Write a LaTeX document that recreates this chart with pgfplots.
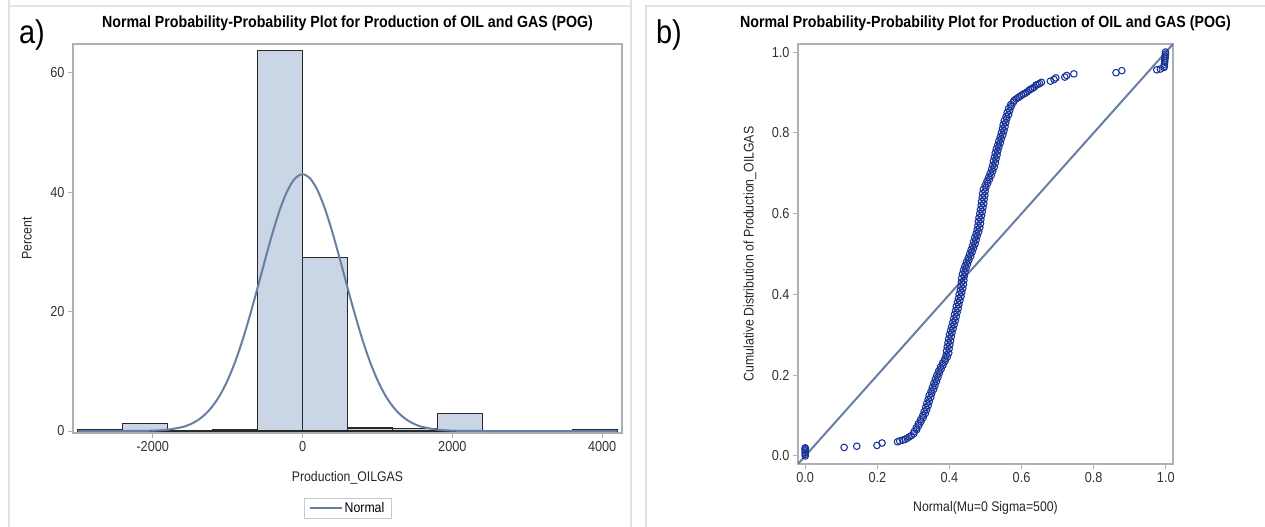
\documentclass[border=0pt]{standalone}
\usepackage{fontspec}
\setmainfont{Liberation Sans}
\newfontfamily\sasfont[FakeStretch=0.88]{Liberation Sans}
\usepackage{pgfplots}
\pgfplotsset{compat=1.18}
\definecolor{barfill}{RGB}{202,213,229}
\definecolor{baredge}{RGB}{40,40,40}
\definecolor{curve}{RGB}{102,127,163}
\definecolor{axgray}{RGB}{172,176,182}
\definecolor{ptblue}{RGB}{24,50,150}
\definecolor{framegray}{RGB}{226,226,226}
\pgfplotsset{panel/.style={
  scale only axis,
  axis line style={axgray, line width=1.2bp},
  tick style={axgray, line width=1bp},
  major tick length=5bp,
  tick align=outside,
  xtick pos=bottom, ytick pos=left,
  ticklabel style={font=\sasfont\fontsize{14.5}{16}\selectfont, text=black!80},
  label style={font=\sasfont\fontsize{14}{16}\selectfont, text=black!85},
  title style={font=\sasfont\bfseries\fontsize{16.2}{18}\selectfont, anchor=center},
  /pgf/number format/assume math mode=true,
}}
\begin{document}
\begin{tikzpicture}[x=1bp,y=1bp]
\useasboundingbox (0,0) rectangle (1265,527);
% panel frames
\draw[framegray, line width=2bp] (9,527) -- (9,521) -- (631,521) -- (631,527);
\draw[framegray, line width=2bp] (9,521) -- (9,0);
\draw[framegray, line width=2bp] (631,521) -- (631,0);
\draw[framegray, line width=2bp] (646,0) -- (646,521) -- (1265,521);
\node[font=\sasfont\fontsize{33}{35}\selectfont] at (32,492) {a)};
\node[font=\sasfont\fontsize{33}{35}\selectfont] at (669,492) {b)};

% ---------- panel a ----------
\begin{axis}[panel,
  at={(73bp,94bp)}, anchor=south west,
  width=549bp, height=389bp,
  xmin=-3065, xmax=4265, ymin=-0.33, ymax=64.8,
  xtick={-2000,0,2000,4000}, ytick={0,20,40,60},
  scaled x ticks=false,
  xticklabel style={/pgf/number format/.cd, fixed, 1000 sep={}},
  title={Normal Probability-Probability Plot for Production of OIL and GAS (POG)},
  title style={at={(0.5,1.0386)}},
  xlabel={Production\_OILGAS},
  xlabel style={at={(axis description cs:0.5,-0.1157)}, anchor=center},
  ylabel={Percent},
  ylabel style={at={(axis description cs:-0.0838,0.5)}, anchor=center},
  legend style={at={(axis description cs:0.5,-0.193)}, anchor=center,
    draw=axgray!70, font=\sasfont\fontsize{14}{16}\selectfont,
    inner xsep=5bp, inner ysep=2bp},
  legend image code/.code={\draw[#1] (0bp,0bp) -- (32bp,0bp);},
]
\addplot[ybar interval, fill=barfill, draw=baredge, line width=1.1bp, forget plot]
  coordinates {(-3000,0.3) (-2400,1.3) (-1800,0) (-1200,0.3) (-600,63.7)
  (0,29.0) (600,0.5) (1200,0.4) (1800,3.0) (2400,0) (3000,0) (3600,0.3) (4200,0)};
\addplot[curve, line width=2bp, smooth] coordinates {
  (-3000,0) (-2500,0.002) (-2200,0.017) (-2000,0.067) (-1800,0.23)
  (-1600,0.68) (-1500,1.13) (-1400,1.81) (-1300,2.80) (-1200,4.19)
  (-1100,6.07) (-1000,8.53) (-900,11.60) (-800,15.27) (-700,19.47)
  (-600,24.02) (-500,28.70) (-400,33.20) (-300,37.17) (-200,40.30)
  (-100,42.31) (0,43.0) (100,42.31) (200,40.30) (300,37.17)
  (400,33.20) (500,28.70) (600,24.02) (700,19.47) (800,15.27)
  (900,11.60) (1000,8.53) (1100,6.07) (1200,4.19) (1300,2.80)
  (1400,1.81) (1500,1.13) (1600,0.68) (1800,0.23) (2000,0.067)
  (2200,0.017) (2500,0.002) (3000,0) (4200,0)};
\addlegendentry{Normal}
\end{axis}

% ---------- panel b ----------
\begin{axis}[panel,
  at={(798bp,63bp)}, anchor=south west,
  width=375bp, height=420bp,
  xmin=-0.02, xmax=1.02, ymin=-0.02, ymax=1.02,
  xtick={0,0.2,0.4,0.6,0.8,1.0}, ytick={0,0.2,0.4,0.6,0.8,1.0},
  xticklabel style={/pgf/number format/.cd, fixed, fixed zerofill, precision=1},
  yticklabel style={/pgf/number format/.cd, fixed, fixed zerofill, precision=1},
  title={Normal Probability-Probability Plot for Production of OIL and GAS (POG)},
  title style={at={(0.5,1.0357)}},
  xlabel={Normal(Mu=0 Sigma=500)},
  xlabel style={at={(axis description cs:0.5,-0.105)}, anchor=center},
  ylabel={Cumulative Distribution of Production\_OILGAS},
  ylabel style={at={(axis description cs:-0.128,0.5)}, anchor=center},
]
\addplot[curve, line width=2bp] coordinates {(-0.03,-0.03) (1.04,1.04)};
\addplot[only marks, mark=o, mark size=3.3bp, ptblue, mark options={line width=1.05bp}]
  coordinates {
  (0,0) (0,0.004) (0,0.008) (0,0.012) (0,0.015) (0,0.018) (0,0.02)
  (0.108,0.021) (0.143,0.024) (0.199,0.026) (0.213,0.032) (0.256,0.035)
  (0.262,0.037) (0.27,0.039) (0.277,0.041) (0.283,0.044) (0.288,0.047)
  (0.294,0.05) (0.302,0.06) (0.308,0.07) (0.314,0.08) (0.320,0.09)
  (0.326,0.10) (0.330,0.11) (0.334,0.12) (0.337,0.13) (0.341,0.14)
  (0.344,0.15) (0.349,0.16) (0.353,0.17) (0.357,0.18) (0.361,0.19)
  (0.365,0.20) (0.370,0.21) (0.375,0.22) (0.381,0.23) (0.387,0.24)
  (0.391,0.25) (0.392,0.26) (0.394,0.27) (0.396,0.28) (0.398,0.29)
  (0.400,0.30) (0.403,0.31) (0.406,0.32) (0.409,0.33) (0.412,0.34)
  (0.414,0.35) (0.417,0.36) (0.419,0.37) (0.422,0.38) (0.425,0.39)
  (0.427,0.40) (0.430,0.41) (0.432,0.42) (0.433,0.43) (0.434,0.44)
  (0.436,0.45) (0.439,0.46) (0.443,0.47) (0.447,0.48) (0.452,0.49)
  (0.456,0.50) (0.460,0.51) (0.464,0.52) (0.467,0.53) (0.470,0.54)
  (0.474,0.55) (0.477,0.56) (0.479,0.57) (0.480,0.58) (0.482,0.59)
  (0.484,0.60) (0.486,0.61) (0.488,0.62) (0.489,0.63) (0.491,0.64)
  (0.492,0.65) (0.494,0.66) (0.499,0.67) (0.504,0.68) (0.509,0.69)
  (0.513,0.70) (0.517,0.71) (0.520,0.72) (0.522,0.73) (0.525,0.74)
  (0.527,0.75) (0.530,0.76) (0.534,0.77) (0.537,0.78) (0.541,0.79)
  (0.544,0.80) (0.547,0.81) (0.549,0.82) (0.552,0.83) (0.557,0.84)
  (0.560,0.85) (0.564,0.86) (0.570,0.87) (0.579,0.88) (0.590,0.887)
  (0.301,0.055) (0.309,0.065) (0.315,0.075) (0.321,0.085) (0.327,0.095)
  (0.333,0.105) (0.337,0.115) (0.341,0.125) (0.344,0.135) (0.348,0.145)
  (0.351,0.155) (0.356,0.165) (0.360,0.175) (0.364,0.185) (0.368,0.195)
  (0.372,0.205) (0.377,0.215) (0.382,0.225) (0.388,0.235) (0.394,0.245)
  (0.398,0.255) (0.399,0.265) (0.401,0.275) (0.403,0.285) (0.405,0.295)
  (0.407,0.305) (0.410,0.315) (0.413,0.325) (0.416,0.335) (0.419,0.345)
  (0.421,0.355) (0.424,0.365) (0.426,0.375) (0.429,0.385) (0.432,0.395)
  (0.434,0.405) (0.437,0.415) (0.439,0.425) (0.440,0.435) (0.441,0.445)
  (0.443,0.455) (0.446,0.465) (0.450,0.475) (0.454,0.485) (0.459,0.495)
  (0.463,0.505) (0.467,0.515) (0.471,0.525) (0.474,0.535) (0.477,0.545)
  (0.481,0.555) (0.484,0.565) (0.486,0.575) (0.487,0.585) (0.489,0.595)
  (0.491,0.605) (0.493,0.615) (0.495,0.625) (0.496,0.635) (0.498,0.645)
  (0.499,0.655) (0.501,0.665) (0.506,0.675) (0.511,0.685) (0.516,0.695)
  (0.520,0.705) (0.524,0.715) (0.527,0.725) (0.529,0.735) (0.532,0.745)
  (0.534,0.755) (0.537,0.765) (0.541,0.775) (0.544,0.785) (0.548,0.795)
  (0.551,0.805) (0.554,0.815) (0.556,0.825) (0.559,0.835) (0.564,0.845)
  (0.567,0.855) (0.571,0.865) (0.577,0.875)
  (0.585,0.884) (0.595,0.890) (0.605,0.896) (0.615,0.901) (0.625,0.908)
  (0.635,0.913) (0.645,0.920)
  (0.600,0.893) (0.610,0.898) (0.620,0.905) (0.630,0.910) (0.640,0.918)
  (0.650,0.922) (0.655,0.925) (0.680,0.928) (0.690,0.932) (0.695,0.936)
  (0.720,0.938) (0.725,0.942) (0.745,0.946) (0.862,0.949) (0.878,0.954)
  (0.975,0.956) (0.985,0.958) (0.995,0.962) (0.996,0.965) (0.996,0.970)
  (0.997,0.975) (0.997,0.980) (0.998,0.985) (0.998,0.990) (0.999,0.995)
  (0.999,1.0)};
\end{axis}
\end{tikzpicture}
\end{document}
